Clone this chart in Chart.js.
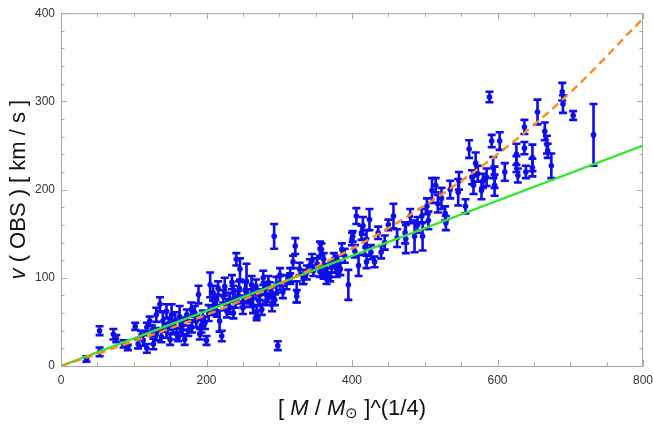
<!DOCTYPE html>
<html>
<head>
<meta charset="utf-8">
<script src="https://cdn.jsdelivr.net/npm/chart.js@4"></script>
<style>
  html, body { margin: 0; padding: 0; background: #fff; }
</style>
</head>
<body>
<canvas id="scatter-chart" width="653" height="425"></canvas>
<script>
// observed points: x = [M/Msun]^(1/4), y = v(OBS) km/s, err = half error bar
const massX = [35,53,53,72,76,86,92,102,106,110,113,118,118,122,125,127,131,131,136,138,140,145,150,152,154,159,161,163,168,170,173,175,179,180,186,189,191,195,198,200,
  205,209,209,214,214,218,221,223,227,228,232,232,237,237,240,241,245,246,250,251,255,257,260,262,264,264,269,269,272,273,276,278,282,283,285,287,290,290,293,294,298,
  301,301,305,315,315,319,322,324,324,333,333,342,347,352,356,356,358,361,361,363,365,366,370,375,377,379,381,386,395,
  400,401,406,409,413,415,420,420,424,426,431,436,440,450,457,473,474,480,486,496,497,503,510,515,518,528,529,546,547,556,
  561,565,567,573,578,580,585,589,592,594,596,596,603,626,626,628,637,637,639,648,648,655,665,668,669,674,689,690,704,732,
  145,148,157,166,184,193,203,212,216,225,235,243,253,268,280,296,310,328,338,345,372,384,390,404,418,445,462,490,505,523,535,570,610];
const velY = [8,40,16,36,31,25,21,45,25,35,29,44,20,51,40,25,58,36,70,33,51,40,30,58,45,36,33,56,48,30,58,40,64,44,51,81,36,55,49,29,
  92,66,83,75,62,51,34,79,70,62,75,66,83,60,72,121,88,110,66,73,96,79,73,92,68,84,62,57,74,81,64,100,81,75,95,88,83,70,147,75,23,
  94,103,84,103,99,118,136,84,79,101,99,114,108,116,133,107,132,121,105,110,99,105,101,121,114,107,118,132,92,
  144,147,170,114,151,159,144,118,166,129,118,151,129,160,170,151,144,170,147,170,147,181,199,205,184,173,162,197,210,181,
  246,214,205,218,199,210,214,305,255,225,214,205,255,240,229,216,271,247,220,236,225,288,266,251,244,227,311,297,284,262,
  62,48,52,40,60,45,60,70,88,90,95,78,86,90,88,92,95,110,106,120,112,110,125,130,135,140,145,160,165,190,200,230,220];
const velErr = [3,5,5,6,4,4,3,4,5,5,6,5,5,5,6,6,8,7,8,6,10,8,6,12,8,6,5,12,7,6,6,6,8,6,7,10,6,8,7,5,
  14,8,8,6,6,12,6,7,6,7,8,7,8,6,6,7,8,12,7,6,20,8,6,10,8,7,7,5,6,6,6,8,8,6,7,7,6,8,14,6,5,
  8,8,7,8,6,7,9,12,7,8,6,7,6,6,8,6,7,7,6,6,6,6,5,7,8,6,7,7,17,
  7,6,9,12,8,10,10,7,12,8,6,7,7,6,14,12,16,8,18,8,16,9,14,8,10,8,8,15,10,8,
  10,8,10,9,10,8,10,6,7,12,12,12,10,12,9,8,8,7,7,15,10,14,10,10,8,14,10,10,5,35,
  8,7,9,6,8,7,9,8,8,10,8,7,9,8,7,9,8,7,8,7,6,7,8,7,9,8,10,9,10,12,10,12,10];

// fitted curves
const lineX = [0, 800];
const lineY = [0, 250];
const curveX = [0, 100, 200, 300, 400, 500, 600, 700, 800];
const curveY = [0, 28, 58, 93, 133, 182, 240, 310, 394];

const xMajor = [0, 200, 400, 600, 800];
const yMajor = [0, 100, 200, 300, 400];

const blue = '#0c0cee';

const errorBars = {
  id: 'errorBars',
  beforeDatasetsDraw(chart) {
    const xs = chart.scales.x, ys = chart.scales.y, ctx = chart.ctx;
    ctx.save();
    ctx.strokeStyle = blue;
    ctx.lineWidth = 2.6;
    for (let i = 0; i < massX.length; i++) {
      const px = xs.getPixelForValue(massX[i]);
      const top = ys.getPixelForValue(velY[i] + velErr[i]);
      const bot = ys.getPixelForValue(velY[i] - velErr[i]);
      ctx.beginPath();
      ctx.moveTo(px, top); ctx.lineTo(px, bot);
      ctx.moveTo(px - 4, top); ctx.lineTo(px + 4, top);
      ctx.moveTo(px - 4, bot); ctx.lineTo(px + 4, bot);
      ctx.stroke();
    }
    ctx.restore();
  }
};

// frame with inward ticks on all four sides
const frame = {
  id: 'frame',
  afterDatasetsDraw(chart) {
    const a = chart.chartArea, ctx = chart.ctx;
    const xs = chart.scales.x, ys = chart.scales.y;
    ctx.save();
    ctx.strokeStyle = '#a6a6a6';
    ctx.lineWidth = 1;
    ctx.strokeRect(a.left + 0.5, a.top + 0.5, a.right - a.left - 1, a.bottom - a.top);
    ctx.beginPath();
    for (let v = 0; v <= 800; v += 50) {
      const p = Math.round(xs.getPixelForValue(v)) + 0.5;
      const len = xMajor.includes(v) ? 6 : 3.5;
      ctx.moveTo(p, a.bottom); ctx.lineTo(p, a.bottom - len);
      ctx.moveTo(p, a.top); ctx.lineTo(p, a.top + len);
    }
    for (let v = 0; v <= 400; v += 20) {
      const p = Math.round(ys.getPixelForValue(v)) + 0.5;
      const len = yMajor.includes(v) ? 6 : 3.5;
      ctx.moveTo(a.left, p); ctx.lineTo(a.left + len, p);
      ctx.moveTo(a.right, p); ctx.lineTo(a.right - len, p);
    }
    ctx.stroke();
    ctx.restore();
  }
};

// axis titles with italic symbols
function drawRich(ctx, parts, size) {
  let w = 0;
  parts.forEach(p => {
    ctx.font = (p.it ? 'italic ' : '') + Math.round(size * (p.sub ? 0.7 : 1)) + 'px "Liberation Sans", Arial, sans-serif';
    p.w = ctx.measureText(p.t).width;
    w += p.w;
  });
  let x = -w / 2;
  parts.forEach(p => {
    ctx.font = (p.it ? 'italic ' : '') + Math.round(size * (p.sub ? 0.7 : 1)) + 'px "Liberation Sans", Arial, sans-serif';
    ctx.fillText(p.t, x, p.sub ? 5 : 0);
    x += p.w;
  });
}

const titles = {
  id: 'titles',
  afterDraw(chart) {
    const a = chart.chartArea, ctx = chart.ctx;
    ctx.save();
    ctx.fillStyle = '#111';
    ctx.textBaseline = 'middle';
    ctx.textAlign = 'left';
    ctx.translate((a.left + a.right) / 2, 409);
    drawRich(ctx, [{t: '[ '}, {t: 'M', it: true}, {t: ' / '}, {t: 'M', it: true}, {t: '\u2299', sub: true}, {t: ' ]^(1/4)'}], 22);
    ctx.restore();
    ctx.save();
    ctx.fillStyle = '#111';
    ctx.textBaseline = 'middle';
    ctx.textAlign = 'left';
    ctx.translate(19, (a.top + a.bottom) / 2);
    ctx.rotate(-Math.PI / 2);
    drawRich(ctx, [{t: 'v', it: true}, {t: ' ( OBS ) [ km / s ]'}], 22);
    ctx.restore();
  }
};

const ctx = document.getElementById('scatter-chart').getContext('2d');
new Chart(ctx, {
  type: 'scatter',
  data: {
    datasets: [
      {
        type: 'line',
        data: curveX.map((x, i) => ({x: x, y: curveY[i]})),
        borderColor: '#ff8c1a',
        borderWidth: 2.4,
        borderDash: [8, 5],
        pointRadius: 0,
        cubicInterpolationMode: 'monotone',
        fill: false
      },
      {
        type: 'line',
        data: lineX.map((x, i) => ({x: x, y: lineY[i]})),
        borderColor: '#2ee82e',
        borderWidth: 2.4,
        pointRadius: 0,
        fill: false
      },
      {
        data: massX.map((x, i) => ({x: x, y: velY[i]})),
        backgroundColor: blue,
        borderColor: blue,
        pointRadius: 2.8,
        borderWidth: 0
      }
    ]
  },
  options: {
    responsive: false,
    animation: false,
    events: [],
    layout: { padding: { left: 0, right: 10, top: 6, bottom: 0 } },
    plugins: { legend: { display: false }, tooltip: { enabled: false } },
    scales: {
      x: {
        type: 'linear', min: 0, max: 800,
        grid: { display: false, drawTicks: false },
        border: { display: false },
        afterFit(s) { s.height = 59; s.paddingLeft = 0; s.paddingRight = 0; },
        afterBuildTicks(s) { s.ticks = xMajor.map(v => ({value: v})); },
        ticks: { color: '#333', padding: 7, maxRotation: 0, autoSkip: false,
          font: { size: 12, family: '"Liberation Sans", Arial, sans-serif' } }
      },
      y: {
        type: 'linear', min: 0, max: 400,
        grid: { display: false, drawTicks: false },
        border: { display: false },
        afterFit(s) { s.width = 61; },
        afterBuildTicks(s) { s.ticks = yMajor.map(v => ({value: v})); },
        ticks: { color: '#333', padding: 6, autoSkip: false,
          font: { size: 12, family: '"Liberation Sans", Arial, sans-serif' } }
      }
    }
  },
  plugins: [errorBars, frame, titles]
});
</script>
</body>
</html>
